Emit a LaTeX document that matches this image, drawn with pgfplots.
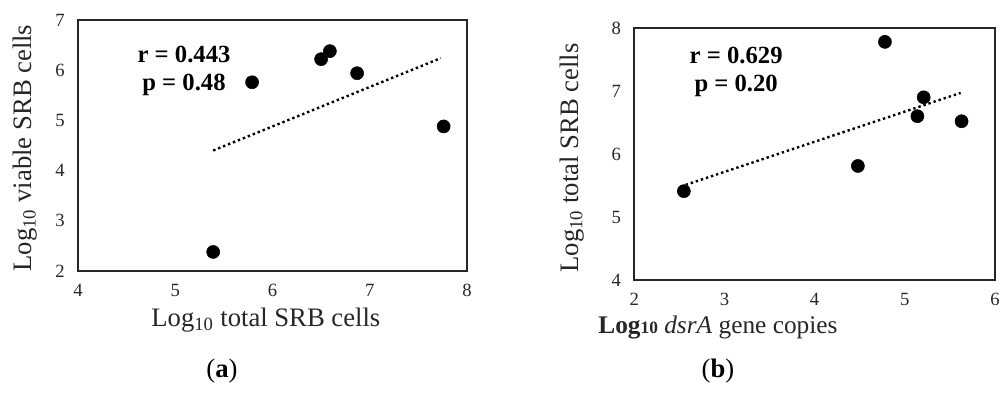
\documentclass[border=0pt]{standalone}
\usepackage{pgfplots}
\pgfplotsset{compat=1.18}
\usepackage{fontspec}
\setmainfont{Liberation Serif}
\pgfplotsset{
  myax/.style={
    scale only axis, anchor=south west, clip=false,
    axis line style={line width=1.2pt, black!85},
    tick style={draw=none},
    ticklabel style={font=\fontsize{14}{16}\selectfont, black!85},
    /pgf/number format/assume math mode=true,
    xticklabel style={yshift=-6.5pt},
    yticklabel style={xshift=-6.5pt},
    label style={font=\fontsize{20}{24}\selectfont, black!85},
  },
  pts/.style={only marks, mark=*, mark size=4.9pt, black, mark options={fill=black}},
  trend/.style={no marks, black, line width=1.8pt, dash pattern=on 1.8pt off 2.2pt},
}
\begin{document}
\begin{tikzpicture}
\path[use as bounding box] (0pt,0pt) rectangle (750pt,300pt);
% Panel (a)
\begin{axis}[myax, at={(58.5pt,96.75pt)}, width=291.75pt, height=188.25pt,
  xmin=4, xmax=8, ymin=2, ymax=7, xtick={4,5,6,7,8}, ytick={2,3,4,5,6,7},
  xlabel={Log\textsubscript{10} total SRB cells},
  ylabel={Log\textsubscript{10} viable SRB cells},
  xlabel style={at={(axis description cs:0.483,-0.195)}, anchor=center},
  ylabel style={at={(axis description cs:-0.136,0.49)}, anchor=center},
]
\addplot[trend] coordinates {(5.39,4.40) (7.73,6.24)};
\addplot[pts] coordinates {(5.39,2.38) (5.79,5.76) (6.50,6.22) (6.59,6.38) (6.87,5.94) (7.76,4.88)};
\node[font=\bfseries\fontsize{18.5}{21}\selectfont, align=center] at (axis cs:5.09,5.98) {r = 0.443\\p = 0.48};
\end{axis}
% Panel (b)
\begin{axis}[myax, at={(475.7pt,90pt)}, width=270.5pt, height=189pt,
  xmin=2, xmax=6, ymin=4, ymax=8, xtick={2,3,4,5,6}, ytick={4,5,6,7,8},
  xlabel={\textbf{Log}{\fontsize{13}{14}\selectfont\textbf{10}} \textit{dsrA} gene copies},
  ylabel={Log\textsubscript{10} total SRB cells},
  xlabel style={at={(axis description cs:0.232,-0.19)}, anchor=center, font=\fontsize{19}{22}\selectfont},
  ylabel style={at={(axis description cs:-0.173,0.484)}, anchor=center},
]
\addplot[trend] coordinates {(2.57,5.51) (5.62,6.97)};
\addplot[pts] coordinates {(2.55,5.41) (4.48,5.81) (4.78,7.78) (5.14,6.60) (5.21,6.90) (5.63,6.52)};
\node[font=\bfseries\fontsize{18.5}{21}\selectfont, align=center] at (axis cs:3.13,7.31) {r = 0.629\\p = 0.20};
\end{axis}
\node[font=\fontsize{20}{24}\selectfont] at (166.5pt,21.75pt) {(\textbf{a})};
\node[font=\fontsize{20}{24}\selectfont] at (538.5pt,21.75pt) {(\textbf{b})};
\end{tikzpicture}
\end{document}
